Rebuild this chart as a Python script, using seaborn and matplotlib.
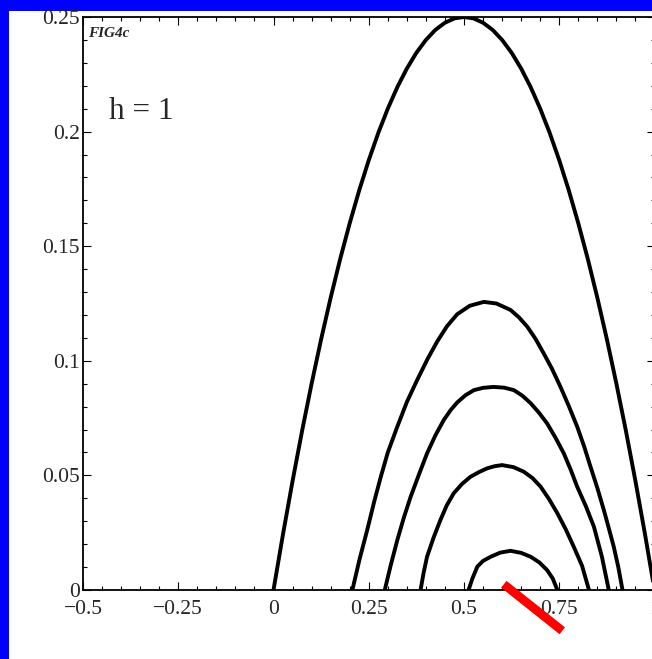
import numpy as np
import pandas as pd
import seaborn as sns
import matplotlib
matplotlib.use("Agg")
import matplotlib.pyplot as plt
from matplotlib.patches import Rectangle
from matplotlib.ticker import MultipleLocator, FuncFormatter

# ---- donnees ----
# courbe exterieure (la plus haute)
x_c1 = [0.0, 0.025, 0.05, 0.075, 0.10, 0.125, 0.15, 0.175, 0.20, 0.225, 0.25,
        0.275, 0.30, 0.325, 0.35, 0.375, 0.40, 0.425, 0.45, 0.475, 0.50,
        0.525, 0.55, 0.575, 0.60, 0.625, 0.65, 0.675, 0.70, 0.725, 0.75,
        0.775, 0.80, 0.825, 0.85, 0.875, 0.90, 0.925, 0.95, 0.975, 1.0]
y_c1 = [0.0, 0.0244, 0.0475, 0.0694, 0.090, 0.1094, 0.1275, 0.1444, 0.160, 0.1744, 0.1875,
        0.1994, 0.210, 0.2194, 0.2275, 0.2344, 0.240, 0.2444, 0.2475, 0.2494, 0.250,
        0.2494, 0.2475, 0.2444, 0.240, 0.2344, 0.2275, 0.2194, 0.210, 0.1994, 0.1875,
        0.1744, 0.160, 0.1444, 0.1275, 0.1094, 0.090, 0.0694, 0.0475, 0.0244, 0.0]

x_c2 = [0.207, 0.226, 0.246, 0.265, 0.281, 0.300, 0.325, 0.350, 0.377, 0.405, 0.430,
        0.455, 0.482, 0.515, 0.552, 0.585, 0.622, 0.644, 0.666, 0.688, 0.709, 0.731,
        0.753, 0.775, 0.797, 0.815, 0.832, 0.850, 0.867, 0.880, 0.893, 0.905, 0.916]
y_c2 = [0.0, 0.0135, 0.0262, 0.0390, 0.0490, 0.0600, 0.0713, 0.0820, 0.0916, 0.1010, 0.1085,
        0.1150, 0.1203, 0.1240, 0.1257, 0.1250, 0.1222, 0.1190, 0.1149, 0.1095, 0.1033, 0.0965,
        0.0887, 0.0803, 0.0713, 0.0628, 0.0538, 0.0445, 0.0349, 0.0270, 0.0189, 0.0100, 0.0]

x_c3 = [0.292, 0.308, 0.325, 0.342, 0.360, 0.382, 0.403, 0.425, 0.447, 0.465, 0.482, 0.504,
        0.526, 0.550, 0.577, 0.605, 0.631, 0.653, 0.675, 0.697, 0.718, 0.740, 0.762, 0.780,
        0.797, 0.820, 0.841, 0.862, 0.880]
y_c3 = [0.0, 0.0110, 0.0218, 0.0315, 0.0407, 0.0505, 0.0596, 0.0675, 0.0742, 0.0785, 0.0818, 0.0850,
        0.0872, 0.0882, 0.0886, 0.0883, 0.0872, 0.0848, 0.0815, 0.0773, 0.0727, 0.0665, 0.0596, 0.0525,
        0.0451, 0.0365, 0.0276, 0.0145, 0.0]

x_c4 = [0.386, 0.394, 0.403, 0.420, 0.438, 0.455, 0.473, 0.495, 0.517, 0.540, 0.561, 0.580,
        0.600, 0.630, 0.657, 0.680, 0.701, 0.723, 0.745, 0.767, 0.788, 0.810, 0.828]
y_c4 = [0.0, 0.0075, 0.0145, 0.0228, 0.0305, 0.0370, 0.0422, 0.0463, 0.0494, 0.0515, 0.0531, 0.0540,
        0.0545, 0.0536, 0.0516, 0.0488, 0.0451, 0.0397, 0.0335, 0.0265, 0.0189, 0.0105, 0.0]

x_c5 = [0.512, 0.522, 0.535, 0.550, 0.570, 0.595, 0.622, 0.650, 0.675, 0.698, 0.718,
        0.733, 0.745]
y_c5 = [0.0, 0.0050, 0.0102, 0.0127, 0.0145, 0.0163, 0.0171, 0.0162, 0.0145, 0.0120, 0.0087,
        0.0050, 0.0]

# trait rouge (annotation hors axes)
x_rouge = [0.6045, 0.758]
y_rouge = [0.0025, -0.0178]

courbes = [(x_c1, y_c1), (x_c2, y_c2), (x_c3, y_c3), (x_c4, y_c4), (x_c5, y_c5)]
morceaux = []
for i, (xs, ys) in enumerate(courbes):
    morceaux.append(pd.DataFrame({"x": xs, "y": ys, "courbe": i}))
df = pd.concat(morceaux, ignore_index=True)

# ---- style ----
sns.set_style("ticks")
plt.rcParams["font.family"] = ["Liberation Serif", "DejaVu Serif"]

fig = plt.figure(figsize=(6.52, 6.59), dpi=100, facecolor="#0000FF")
# fond blanc (bordure bleue en haut et a gauche)
fig.patches.append(Rectangle((9 / 652, 0), 1.0, (659 - 11) / 659,
                             transform=fig.transFigure, facecolor="white",
                             edgecolor="none", zorder=-10))

ax = fig.add_axes([83 / 652, (659 - 590) / 659, 571.5 / 652, 573 / 659])
ax.set_facecolor("white")

sns.lineplot(data=df, x="x", y="y", units="courbe", estimator=None, sort=False,
             color="black", linewidth=2.8, ax=ax, legend=False)

ax.plot(x_rouge, y_rouge, color="#FF0000", linewidth=6.3, clip_on=False,
        solid_capstyle="butt", zorder=5)

ax.set_xlim(-0.5, 1.0)
ax.set_ylim(0, 0.25)
ax.set_xlabel("")
ax.set_ylabel("")

ax.xaxis.set_major_locator(MultipleLocator(0.25))
ax.xaxis.set_minor_locator(MultipleLocator(0.05))
ax.yaxis.set_major_locator(MultipleLocator(0.05))
ax.yaxis.set_minor_locator(MultipleLocator(0.01))
fmt = FuncFormatter(lambda v, _: f"{v:g}".replace("-", "\u2212"))
ax.xaxis.set_major_formatter(fmt)
ax.yaxis.set_major_formatter(fmt)

ax.tick_params(which="both", direction="in", top=True, right=True, color="black",
               width=0.8)
ax.tick_params(which="major", length=5.5, labelsize=15.5)
ax.tick_params(axis="x", which="major", pad=7)
ax.tick_params(axis="y", which="major", pad=2.5)
ax.tick_params(which="minor", length=3)
for sp in ax.spines.values():
    sp.set_linewidth(1.3)
    sp.set_color("black")

ax.text(0.045, 0.822, "h = 1", transform=ax.transAxes, fontsize=22.5,
        ha="left", va="baseline")
ax.text(0.008, 0.983, "FIG4c", transform=ax.transAxes, fontsize=11,
        style="italic", fontweight="bold", ha="left", va="top")

fig.savefig("out.png", dpi=100, facecolor=fig.get_facecolor())
